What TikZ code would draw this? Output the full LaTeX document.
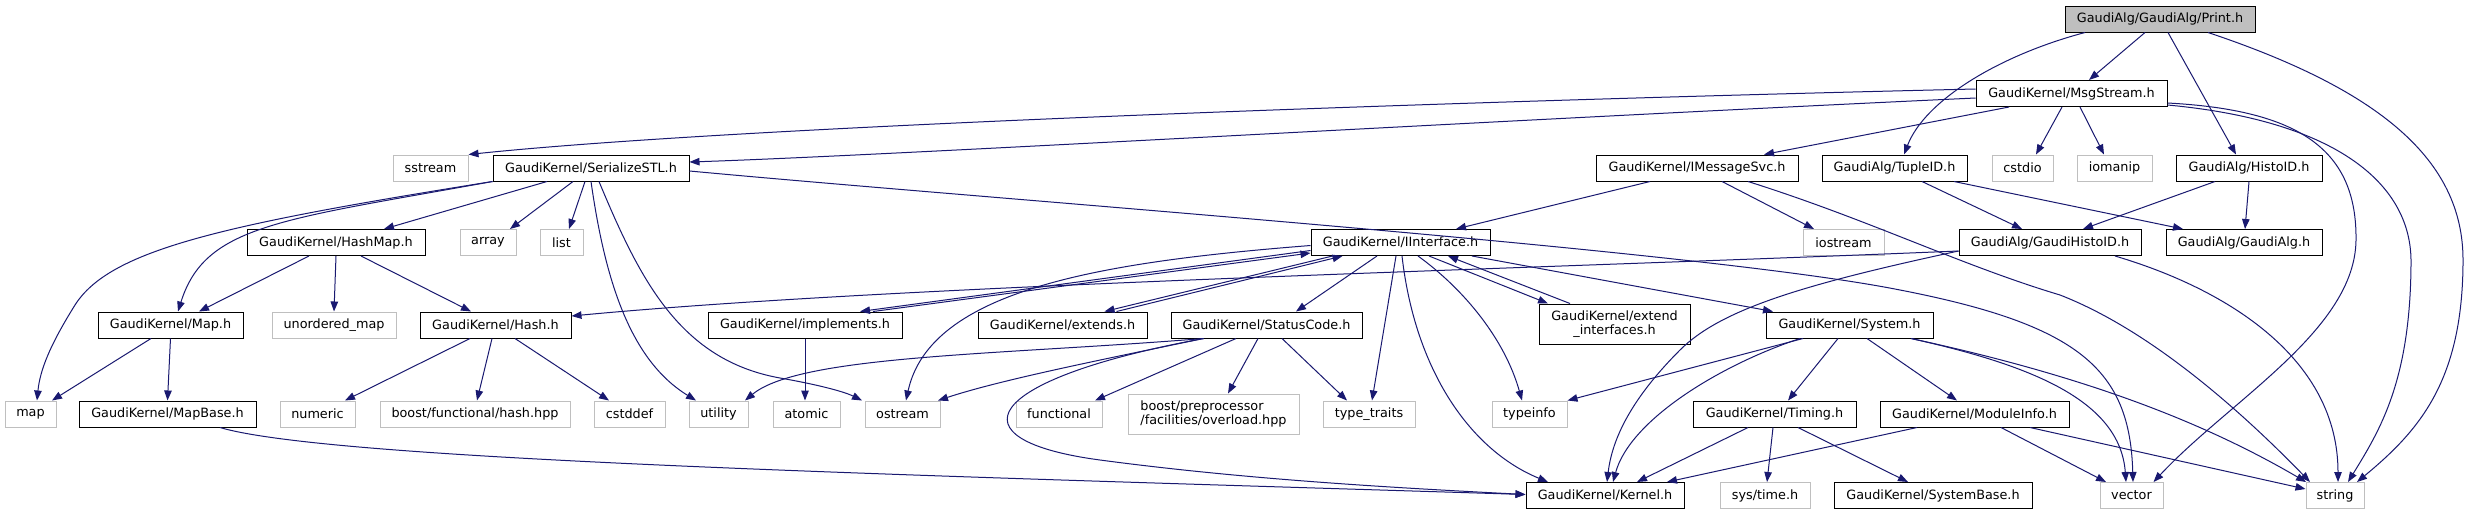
\documentclass[tikz,border=0pt]{standalone}
\usepackage{fontspec}
\setmainfont{DejaVu Sans}
\usetikzlibrary{arrows.meta}
\definecolor{edgeblue}{HTML}{191970}
\definecolor{lgray}{HTML}{BFBFBF}
\begin{document}
\begin{tikzpicture}[x=1pt,y=-1pt,
  nb/.style={draw=black, line width=1pt, inner sep=0pt, minimum height=26pt, fill=white,
             font=\fontsize{12.8}{14.5}\selectfont},
  gb/.style={nb, draw=lgray},
  edg/.style={draw=edgeblue, line width=1pt, -{Triangle[length=10pt,width=7.5pt]}}]
\fill[white] (0,0) rectangle (2467,515);
\useasboundingbox (0,0) rectangle (2467,515);

% rank 0
\node[nb, minimum width=190pt, fill=lgray] (print) at (2160,19) {GaudiAlg/GaudiAlg/Print.h};
% rank 1
\node[nb, minimum width=191pt] (msg) at (2071.5,93.5) {GaudiKernel/MsgStream.h};
% rank 2
\node[gb, minimum width=75pt] (sstream) at (430.5,168) {sstream};
\node[nb, minimum width=196pt] (serial) at (591,168) {GaudiKernel/SerializeSTL.h};
\node[nb, minimum width=202pt] (imsg) at (1697,168) {GaudiKernel/IMessageSvc.h};
\node[nb, minimum width=145pt] (tuple) at (1894.5,168) {GaudiAlg/TupleID.h};
\node[gb, minimum width=61pt] (cstdio) at (2022.5,168) {cstdio};
\node[gb, minimum width=75pt] (iomanip) at (2114.5,168) {iomanip};
\node[nb, minimum width=146pt] (histo) at (2249,168) {GaudiAlg/HistoID.h};
% rank 3
\node[nb, minimum width=178pt] (hashmap) at (336,242.5) {GaudiKernel/HashMap.h};
\node[gb, minimum width=56pt] (array) at (488,242.5) {array};
\node[gb, minimum width=43pt] (list) at (561.5,242.5) {list};
\node[nb, minimum width=179pt] (iint) at (1400.5,242.5) {GaudiKernel/IInterface.h};
\node[gb, minimum width=81pt] (iostream) at (1843.5,242.5) {iostream};
\node[nb, minimum width=182pt] (ghisto) at (2050,242.5) {GaudiAlg/GaudiHistoID.h};
\node[nb, minimum width=156pt] (galg) at (2244,242.5) {GaudiAlg/GaudiAlg.h};
% rank 4
\node[nb, minimum width=145pt] (maph) at (170.5,325) {GaudiKernel/Map.h};
\node[gb, minimum width=124pt] (umap) at (334,325) {unordered\_map};
\node[nb, minimum width=151pt] (hash) at (495.5,325) {GaudiKernel/Hash.h};
\node[nb, minimum width=194pt] (impl) at (805,325) {GaudiKernel/implements.h};
\node[nb, minimum width=169pt] (ext) at (1062.5,325) {GaudiKernel/extends.h};
\node[nb, minimum width=191pt] (status) at (1266.5,325) {GaudiKernel/StatusCode.h};
\node[nb, minimum width=151pt, minimum height=40pt, align=center, font=\fontsize{12.8}{14}\selectfont] (extif) at (1614.5,324) {GaudiKernel/extend\\\_interfaces.h};
\node[nb, minimum width=167pt] (system) at (1849.5,325) {GaudiKernel/System.h};
% rank 5
\node[gb, minimum width=51pt] (mapstd) at (30.5,414) {map};
\node[nb, minimum width=177pt] (mapbase) at (167.5,414) {GaudiKernel/MapBase.h};
\node[gb, minimum width=75pt] (numeric) at (317.5,414) {numeric};
\node[gb, minimum width=190pt] (bfh) at (475,414) {boost/functional/hash.hpp};
\node[gb, minimum width=71pt] (cstddef) at (629.5,414) {cstddef};
\node[gb, minimum width=59pt] (utility) at (718.5,414) {utility};
\node[gb, minimum width=67pt] (atomic) at (806.5,414) {atomic};
\node[gb, minimum width=75pt] (ostream) at (902.5,414) {ostream};
\node[gb, minimum width=86pt] (functional) at (1059,414) {functional};
\node[gb, minimum width=171pt, minimum height=40pt, align=left, font=\fontsize{12.8}{14.5}\selectfont] (boostpp) at (1213.5,414) {boost/preprocessor\\/facilities/overload.hpp};
\node[gb, minimum width=92pt] (typetraits) at (1369,414) {type\_traits};
\node[gb, minimum width=75pt] (typeinfo) at (1529.5,414) {typeinfo};
\node[nb, minimum width=163pt] (timing) at (1774.5,414) {GaudiKernel/Timing.h};
\node[nb, minimum width=189pt] (modinfo) at (1974.5,414) {GaudiKernel/ModuleInfo.h};
% rank 6
\node[nb, minimum width=158pt] (kernel) at (1605,495.5) {GaudiKernel/Kernel.h};
\node[gb, minimum width=90pt] (systime) at (1765,495.5) {sys/time.h};
\node[nb, minimum width=198pt] (sysbase) at (1933,495.5) {GaudiKernel/SystemBase.h};
\node[gb, minimum width=63pt] (vector) at (2131.5,495.5) {vector};
\node[gb, minimum width=58pt] (string) at (2335,495.5) {string};

% ---- edges from Print.h
\draw[edg] ([xshift=-15pt]print.south) -- ([xshift=17.5pt]msg.north);
\draw[edg] ([xshift=-75pt]print.south) .. controls (2000,55) and (1925,100) .. ([xshift=9.5pt]tuple.north);
\draw[edg] ([xshift=8pt]print.south) -- ([xshift=-13pt]histo.north);
\draw[edg] ([xshift=48pt]print.south) .. controls (2380,90) and (2463,160) .. (2463,260)
           .. controls (2463,380) and (2420,430) .. ([xshift=22pt]string.north);
% ---- edges from MsgStream.h
\draw[edg] ([yshift=4.5pt]msg.west) .. controls (1500,100) and (750,125) .. (sstream.north east);
\draw[edg] ([yshift=-4.5pt]msg.west) .. controls (1500,120) and (900,155) .. ([yshift=6pt]serial.east);
\draw[edg] ([xshift=-62.5pt]msg.south) -- ([xshift=67pt]imsg.north);
\draw[edg] ([xshift=-9.5pt]msg.south) -- ([xshift=13.5pt]cstdio.north);
\draw[edg] ([xshift=8.5pt]msg.south) -- ([xshift=-10.5pt]iomanip.north);
\draw[edg] ([yshift=-9.5pt]msg.east) .. controls (2300,110) and (2357,150) .. (2356,240)
           .. controls (2355,330) and (2230,400) .. ([xshift=-10pt]vector.north east);
\draw[edg] ([yshift=-11.5pt]msg.east) .. controls (2330,120) and (2410,180) .. (2411,260)
           .. controls (2411,380) and (2380,430) .. ([xshift=13pt]string.north);
% ---- edges from SerializeSTL.h
\draw[edg] (serial.south west) .. controls (280,220) and (205,225) .. ([xshift=7.5pt]maph.north);
\draw[edg] (serial.south west) .. controls (220,225) and (110,250) .. (75,305)
           .. controls (50,345) and (40,370) .. ([xshift=6.5pt]mapstd.north);
\draw[edg] ([xshift=-44pt]serial.south) -- ([xshift=48pt]hashmap.north);
\draw[edg] ([xshift=-18pt]serial.south) -- ([xshift=22pt]array.north);
\draw[edg] ([xshift=-6pt]serial.south) -- ([xshift=7.5pt]list.north);
\draw[edg] (serial.south) .. controls (605,280) and (630,360) .. ([xshift=-22.5pt]utility.north);
\draw[edg] ([xshift=8pt]serial.south) .. controls (640,280) and (680,360) .. (780,378)
           .. controls (820,385) and (845,392) .. ([xshift=-40.5pt]ostream.north);
\draw[edg] ([yshift=-3pt]serial.east) .. controls (1000,200) and (1700,250) .. (1900,290)
           .. controls (2080,325) and (2130,370) .. ([xshift=1.5pt]vector.north);
% ---- HashMap.h, Map.h, MapBase.h, Hash.h
\draw[edg] ([xshift=-27pt]hashmap.south) -- ([xshift=28.5pt]maph.north);
\draw[edg] (hashmap.south) -- (umap.north);
\draw[edg] ([xshift=25pt]hashmap.south) -- ([xshift=-24.5pt]hash.north);
\draw[edg] ([xshift=-19.5pt]maph.south) -- ([xshift=21.5pt]mapstd.north);
\draw[edg] (maph.south) -- (mapbase.north);
\draw[edg] ([xshift=52.5pt]mapbase.south) .. controls (330,460) and (900,475) .. ([yshift=1pt]kernel.west);
\draw[edg] ([xshift=-25.5pt]hash.south) -- ([xshift=27.5pt]numeric.north);
\draw[edg] ([xshift=-3.5pt]hash.south) -- ([xshift=2pt]bfh.north);
\draw[edg] ([xshift=19.5pt]hash.south) -- ([xshift=-20.5pt]cstddef.north);
% ---- IMessageSvc.h
\draw[edg] ([xshift=-47pt]imsg.south) -- ([xshift=55.5pt]iint.north);
\draw[edg] ([xshift=25pt]imsg.south) -- ([xshift=-29.5pt]iostream.north);
\draw[edg] ([xshift=51pt]imsg.south) .. controls (1870,220) and (1960,265) .. (2060,295)
           .. controls (2150,330) and (2240,410) .. ([xshift=-25pt]string.north);
% ---- TupleID.h, HistoID.h
\draw[edg] ([xshift=27.5pt]tuple.south) -- ([xshift=-28pt]ghisto.north);
\draw[edg] ([xshift=59.5pt]tuple.south) -- ([xshift=-61pt]galg.north);
\draw[edg] ([xshift=-34pt]histo.south) -- ([xshift=33pt]ghisto.north);
\draw[edg] (histo.south) -- ([xshift=1pt]galg.north);
% ---- GaudiHistoID.h
\draw[edg] ([yshift=-8.5pt]ghisto.west) .. controls (1500,270) and (900,285) .. ([yshift=9pt]hash.east);
\draw[edg] ([yshift=-8.5pt]ghisto.west) .. controls (1800,285) and (1720,310) .. (1680,350)
           .. controls (1630,400) and (1612,440) .. ([xshift=2pt]kernel.north);
\draw[edg] ([xshift=65pt]ghisto.south) .. controls (2230,290) and (2338,360) .. ([xshift=3pt]string.north);
% ---- IInterface.h and its cycle partners
\draw[edg] ([yshift=-8pt]iint.west) -- ([xshift=55pt]impl.north);
\draw[edg] ([xshift=68pt]impl.north) -- ([yshift=-10.5pt]iint.west);
\draw[edg] ([xshift=-68pt]iint.south) -- ([xshift=42pt]ext.north);
\draw[edg] ([xshift=54pt]ext.north) -- ([xshift=-58pt]iint.south);
\draw[edg] ([xshift=28.5pt]iint.south) -- ([xshift=-66.5pt]extif.north);
\draw[edg] ([xshift=-44.5pt]extif.north) -- ([xshift=47.5pt]iint.south);
\draw[edg] ([xshift=-23.5pt]iint.south) -- ([xshift=29.5pt]status.north);
\draw[edg] ([xshift=-4.5pt]iint.south) -- ([xshift=3pt]typetraits.north);
\draw[edg] ([xshift=1.5pt]iint.south) .. controls (1415,370) and (1470,450) .. ([xshift=-57pt]kernel.north);
\draw[edg] ([xshift=17.5pt]iint.south) .. controls (1465,290) and (1505,340) .. ([xshift=-7.5pt]typeinfo.north);
\draw[edg] ([xshift=71.5pt]iint.south) -- ([xshift=-76.5pt]system.north);
\draw[edg] ([yshift=-3pt]iint.west) .. controls (1100,262) and (930,290) .. ([xshift=3.5pt]ostream.north);
\draw[edg] (impl.south) -- ([xshift=-1.5pt]atomic.north);
% ---- StatusCode.h
\draw[edg] ([xshift=33pt]status.south west) .. controls (1000,355) and (800,355) .. ([xshift=26.5pt]utility.north);
\draw[edg] ([xshift=33pt]status.south west) .. controls (1100,360) and (1000,380) .. ([xshift=35.5pt]ostream.north);
\draw[edg] ([xshift=33pt]status.south west) .. controls (980,380) and (950,440) .. (1100,460)
           .. controls (1250,480) and (1400,488) .. ([yshift=1pt]kernel.west);
\draw[edg] ([xshift=-30.5pt]status.south) -- ([xshift=36pt]functional.north);
\draw[edg] ([xshift=-8.5pt]status.south) -- ([xshift=14.5pt]boostpp.north);
\draw[edg] ([xshift=15.5pt]status.south) -- ([xshift=-22pt]typetraits.north);
% ---- System.h
\draw[edg] ([xshift=-46.5pt]system.south) -- (typeinfo.north east);
\draw[edg] ([xshift=-49.5pt]system.south) .. controls (1720,365) and (1630,420) .. ([xshift=8pt]kernel.north);
\draw[edg] ([xshift=-11.5pt]system.south) -- ([xshift=13.5pt]timing.north);
\draw[edg] ([xshift=17.5pt]system.south) -- ([xshift=-17.5pt]modinfo.north);
\draw[edg] ([xshift=61.5pt]system.south) .. controls (2030,365) and (2120,400) .. ([xshift=-5.5pt]vector.north);
\draw[edg] ([xshift=61.5pt]system.south) .. controls (2080,375) and (2200,420) .. ([xshift=-29pt]string.north);
% ---- Timing.h, ModuleInfo.h
\draw[edg] ([xshift=-26.5pt]timing.south) -- ([xshift=32pt]kernel.north);
\draw[edg] ([xshift=-1.5pt]timing.south) -- ([xshift=2pt]systime.north);
\draw[edg] ([xshift=23.5pt]timing.south) -- ([xshift=-25pt]sysbase.north);
\draw[edg] ([xshift=-57.5pt]modinfo.south) -- ([xshift=62pt]kernel.north);
\draw[edg] ([xshift=26.5pt]modinfo.south) -- ([xshift=-25.5pt]vector.north);
\draw[edg] ([xshift=55.5pt]modinfo.south) -- ([yshift=6.5pt]string.west);
\end{tikzpicture}
\end{document}
